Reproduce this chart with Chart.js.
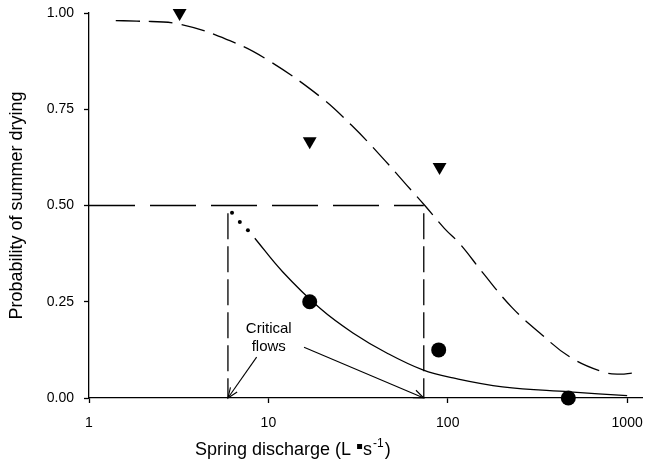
<!DOCTYPE html>
<html>
<head>
<meta charset="utf-8">
<script src="https://cdn.jsdelivr.net/npm/chart.js@4.4.1/dist/chart.umd.min.js"></script>
<style>
  html, body { margin: 0; padding: 0; background: #fff; }
  #wrap { width: 646px; height: 468px; }
</style>
</head>
<body>
<div id="wrap"><canvas id="chart" width="646" height="468"></canvas></div>
<script>
// axis ticks
const xTicks = [1, 10, 100, 1000];
const yTicks = [0, 0.25, 0.5, 0.75, 1];

// observed points
const triangleX = [3.2, 17, 90];
const triangleY = [1.0, 0.667, 0.6];
const circleX = [17, 89, 470];
const circleY = [0.25, 0.125, 0.0];

// upper fitted curve (dashed)
const upperX = [1.41, 1.85, 3.21, 6.1, 9.75, 19.4, 29, 41.9, 59, 74.5, 96, 117, 157, 227, 326, 478, 730, 908, 1072];
const upperY = [0.98, 0.979, 0.971, 0.928, 0.88, 0.783, 0.709, 0.631, 0.553, 0.5, 0.44, 0.40, 0.325, 0.236, 0.169, 0.107, 0.068, 0.062, 0.065];

// lower fitted curve (solid) and its dotted start
const lowerX = [8.4, 12, 19.4, 29.6, 45.7, 72.6, 107, 202, 478, 1000];
const lowerY = [0.415, 0.328, 0.233, 0.169, 0.117, 0.073, 0.052, 0.029, 0.016, 0.006];
const dotX = [6.27, 6.93, 7.69];
const dotY = [0.481, 0.457, 0.436];

// critical flows (L/s) at probability 0.5
const critFlows = [5.95, 73.5];
const critLevel = 0.5;
const critTop = 0.48;

const FONT = '"Liberation Sans", Arial, Helvetica, sans-serif';
const pts = (xs, ys) => xs.map((x, i) => ({ x: x, y: ys[i] }));

const lineBase = {
    showLine: true,
    pointRadius: 0,
    borderColor: '#000',
    backgroundColor: '#000',
    borderWidth: 1.3,
    fill: false
};

// arrows + notes + x title drawn on top
const notesPlugin = {
    id: 'notes',
    afterDatasetsDraw(chart) {
        const { ctx, scales: { x, y } } = chart;
        ctx.save();
        ctx.fillStyle = '#000';
        ctx.strokeStyle = '#000';
        ctx.lineWidth = 1.1;

        // "Critical flows" label
        ctx.font = '15px ' + FONT;
        ctx.textAlign = 'center';
        ctx.textBaseline = 'middle';
        const lx = x.getPixelForValue(10.05);
        ctx.fillText('Critical', lx, y.getPixelForValue(0.18));
        ctx.fillText('flows', lx, y.getPixelForValue(0.133));

        const arrows = [
            [8.6, 0.106, critFlows[0]],
            [15.8, 0.132, critFlows[1]]
        ];
        arrows.forEach(a => {
            const x0 = x.getPixelForValue(a[0]), y0 = y.getPixelForValue(a[1]);
            const x1 = x.getPixelForValue(a[2]), y1 = y.getPixelForValue(0);
            ctx.beginPath();
            ctx.moveTo(x0, y0);
            ctx.lineTo(x1, y1);
            ctx.stroke();
            const ang = Math.atan2(y1 - y0, x1 - x0);
            const len = 11, spread = 0.38;
            ctx.beginPath();
            ctx.moveTo(x1 - len * Math.cos(ang - spread), y1 - len * Math.sin(ang - spread));
            ctx.lineTo(x1, y1);
            ctx.lineTo(x1 - len * Math.cos(ang + spread), y1 - len * Math.sin(ang + spread));
            ctx.stroke();
        });

        // x axis title with superscript
        ctx.textAlign = 'left';
        ctx.textBaseline = 'alphabetic';
        ctx.font = '18px ' + FONT;
        let cx = 195;
        const by = 455;
        const p1 = 'Spring discharge (L ';
        ctx.fillText(p1, cx, by);
        cx += ctx.measureText(p1).width;
        ctx.fillRect(cx + 1, by - 11, 5, 5);
        cx += 7;
        ctx.fillText('s', cx, by);
        cx += ctx.measureText('s').width;
        ctx.font = '12px ' + FONT;
        ctx.fillText('-1', cx + 1, by - 8);
        cx += ctx.measureText('-1').width + 2;
        ctx.font = '18px ' + FONT;
        ctx.fillText(')', cx, by);
        ctx.restore();
    }
};

const ctx = document.getElementById('chart').getContext('2d');
const chart = new Chart(ctx, {
    type: 'scatter',
    data: {
        datasets: [
            { ...lineBase, label: 'fit dry', data: pts(upperX, upperY), borderDash: [24, 9], tension: 0.4 },
            { ...lineBase, label: 'fit', data: pts(lowerX, lowerY), tension: 0.4 },
            { label: 'dots', data: pts(dotX, dotY), showLine: false, pointRadius: 2, pointBackgroundColor: '#000', pointBorderWidth: 0 },
            { ...lineBase, label: 'p50', data: [{ x: 1, y: critLevel }, { x: critFlows[1], y: critLevel }], borderDash: [46, 15] },
            { ...lineBase, label: 'crit1', data: [{ x: critFlows[0], y: critTop }, { x: critFlows[0], y: 0 }], borderDash: [26, 7] },
            { ...lineBase, label: 'crit2', data: [{ x: critFlows[1], y: critTop }, { x: critFlows[1], y: 0 }], borderDash: [26, 7] },
            { label: 'triangles', data: pts(triangleX, triangleY), pointStyle: 'triangle', rotation: 180, pointRadius: 8,
              pointBackgroundColor: '#000', pointBorderColor: '#000', pointBorderWidth: 0, clip: false },
            { label: 'circles', data: pts(circleX, circleY), pointStyle: 'circle', pointRadius: 7.5,
              pointBackgroundColor: '#000', pointBorderColor: '#000', pointBorderWidth: 0, clip: false }
        ]
    },
    options: {
        responsive: false,
        animation: false,
        devicePixelRatio: 1,
        layout: { autoPadding: false, padding: { top: 13, right: 4, left: 0, bottom: 0 } },
        plugins: { legend: { display: false }, tooltip: { enabled: false } },
        scales: {
            x: {
                type: 'logarithmic',
                min: 1,
                max: 1210,
                afterBuildTicks: s => { s.ticks = xTicks.map(v => ({ value: v })); },
                afterFit: s => { s.height = 70; s.paddingLeft = 0; s.paddingRight = 0; },
                ticks: { color: '#000', font: { family: FONT, size: 14 }, padding: 12, maxRotation: 0,
                         callback: v => String(v) },
                grid: { drawOnChartArea: false, drawTicks: true, tickLength: 5, color: '#000', tickWidth: 1.3 },
                border: { display: true, color: '#000', width: 1.3 }
            },
            y: {
                min: 0,
                max: 1,
                afterBuildTicks: s => { s.ticks = yTicks.map(v => ({ value: v })); },
                afterFit: s => { s.width = 89; s.paddingTop = 0; s.paddingBottom = 0; },
                ticks: { color: '#000', font: { family: FONT, size: 14 }, padding: 10,
                         callback: v => v.toFixed(2) },
                grid: { drawOnChartArea: false, drawTicks: true, tickLength: 5, color: '#000', tickWidth: 1.3 },
                border: { display: true, color: '#000', width: 1.3 },
                title: { display: true, text: 'Probability of summer drying', color: '#000',
                         font: { family: FONT, size: 18 }, padding: { top: 6, bottom: 0 } }
            }
        }
    },
    plugins: [notesPlugin]
});
</script>
</body>
</html>
